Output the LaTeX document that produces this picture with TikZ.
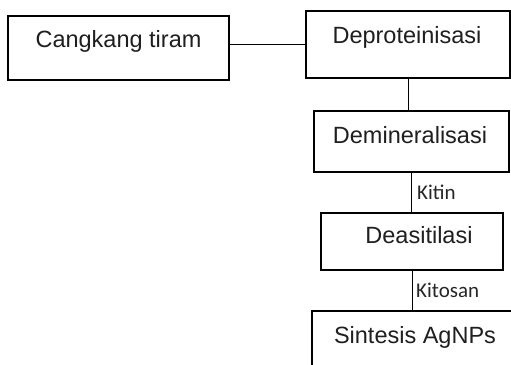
\documentclass[tikz,border=0pt]{standalone}
\usepackage{fontspec}
\setmainfont{Liberation Sans}
\newfontfamily\lblfont{Carlito}
\begin{document}
\begin{tikzpicture}[x=1pt,y=-1pt,
  boxstyle/.style={draw=black,line width=1.3pt,fill=none},
  boxtext/.style={anchor=base,inner sep=0pt,font=\fontsize{23.5}{28}\selectfont,text=black!88},
  linkstyle/.style={draw=black,line width=0.8pt},
  linklabel/.style={anchor=base west,inner sep=0pt,font=\lblfont\fontsize{21}{25}\selectfont,text=black!85}]
\useasboundingbox (0,0) rectangle (511,364);
\clip (0,0) rectangle (511,364);
\fill[white] (0,0) rectangle (511,364);
% boxes
\node[boxstyle,minimum width=221pt,minimum height=64pt,inner sep=0pt] (b1) at (118.5,48) {};
\node[boxstyle,minimum width=204pt,minimum height=67pt,inner sep=0pt] (b2) at (408,44.5) {};
\node[boxstyle,minimum width=195pt,minimum height=61pt,inner sep=0pt] (b3) at (411.5,141.5) {};
\node[boxstyle,minimum width=182pt,minimum height=57pt,inner sep=0pt] (b4) at (412,241.5) {};
\node[boxstyle,minimum width=218pt,minimum height=69pt,inner sep=0pt] (b5) at (421,345.5) {};
% texts
\node[boxtext] (t1) at (118.5,47) {Cangkang tiram};
\node[boxtext] (t2) at (407,43) {Deproteinisasi};
\node[boxtext] (t3) at (410,143) {Demineralisasi};
\node[boxtext] (t4) at (419,243) {Deasitilasi};
\node[boxtext] (t5) at (415,343) {Sintesis AgNPs};
% connectors
\draw[linkstyle] (b2.west -| b1.east) -- (b2.west);
\draw[linkstyle] (b2.south) -- (b2.south |- b3.north);
\draw[linkstyle] (b3.south) -- (b3.south |- b4.north);
\draw[linkstyle] (b4.south) -- (b4.south |- b5.north);
% labels
\node[linklabel] (l1) at (417,199) {Kitin};
\node[linklabel] (l2) at (416,297) {Kitosan};
\end{tikzpicture}
\end{document}
